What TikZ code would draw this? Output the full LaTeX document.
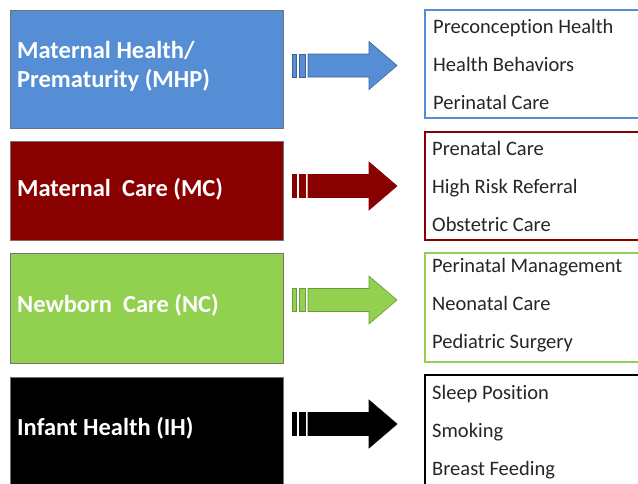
\documentclass[tikz,border=0pt]{standalone}
\usepackage{fontspec}
\setmainfont{Carlito}[Ligatures=NoCommon]
\definecolor{cblue}{HTML}{558ED5}
\definecolor{cbluedk}{HTML}{3C6494}
\definecolor{cred}{HTML}{880000}
\definecolor{creddk}{HTML}{5E0000}
\definecolor{cgreen}{HTML}{92D050}
\definecolor{cgreendk}{HTML}{6A9A3A}
\definecolor{txt}{HTML}{262626}
\tikzset{
  lbox/.style={draw=black!55, line width=0.8pt, inner sep=0pt},
  ltext/.style={anchor=base west, inner sep=0pt, text=white, font=\fontsize{24.5}{28}\selectfont\bfseries},
  rbox/.style={line width=1.6pt, inner sep=0pt},
  rtext/.style={anchor=base west, inner sep=0pt, text=txt, font=\fontsize{20.5}{24}\selectfont},
  arrowpart/.style={line width=0.6pt}
}
\newcommand{\stripearrow}[3]{%
  % #1 center y, #2 fill, #3 draw
  \filldraw[arrowpart, fill=#2, draw=#3] (292.5,#1-11.5) rectangle (296.5,#1+11.5);
  \filldraw[arrowpart, fill=#2, draw=#3] (299,#1-11.5) rectangle (305.5,#1+11.5);
  \filldraw[arrowpart, fill=#2, draw=#3, line join=miter]
    (308,#1-11.5) -- (369,#1-11.5) -- (369,#1-24) -- (397,#1) --
    (369,#1+24) -- (369,#1+11.5) -- (308,#1+11.5) -- cycle;
}
\begin{document}
\begin{tikzpicture}[x=1pt,y=-1pt]
\useasboundingbox (0,0) rectangle (638,483);
\clip (0,0) rectangle (638,483);
\fill[white] (0,0) rectangle (638,483);

% left boxes
\node[lbox, fill=cblue, minimum width=273pt, minimum height=118pt] (mhp) at (146.5,69) {};
\node[lbox, fill=cred, minimum width=273pt, minimum height=99pt] (mc) at (146.5,190.5) {};
\node[lbox, fill=cgreen, minimum width=273pt, minimum height=110pt] (nc) at (146.5,308) {};
\node[lbox, fill=black, minimum width=273pt, minimum height=110pt] (ih) at (146.5,432) {};

\node[ltext] (mhpt1) at (17,58) {Maternal Health/};
\node[ltext] (mhpt2) at (17,87) {Prematurity (MHP)};
\node[ltext] (mct) at (17,196) {Maternal\ \ Care (MC)};
\node[ltext] (nct) at (17,312) {Newborn\ \ Care (NC)};
\node[ltext] (iht) at (17,435) {Infant Health (IH)};

% arrows
\stripearrow{65.5}{cblue}{cbluedk}
\stripearrow{186}{cred}{cred}
\stripearrow{300}{cgreen}{cgreendk}
\stripearrow{424}{black}{black}

% right boxes
\node[rbox, draw=cblue, minimum width=230pt, minimum height=108pt] (rb1) at (540,64) {};
\node[rbox, draw=cred, minimum width=230pt, minimum height=108pt] (rb2) at (540,186) {};
\node[rbox, draw=cgreen, minimum width=230pt, minimum height=109pt] (rb3) at (540,307.5) {};
\node[rbox, draw=black, minimum width=230pt, minimum height=120pt] (rb4) at (540,435) {};

\node[rtext] (a1) at (433,33) {Preconception Health};
\node[rtext] (a2) at (433,71) {Health Behaviors};
\node[rtext] (a3) at (433,109) {Perinatal Care};
\node[rtext] (b1) at (432,155) {Prenatal Care};
\node[rtext] (b2) at (432,193) {High Risk Referral};
\node[rtext] (b3) at (432,231) {Obstetric Care};
\node[rtext] (c1) at (432,272) {Perinatal Management};
\node[rtext] (c2) at (432,310) {Neonatal Care};
\node[rtext] (c3) at (432,348) {Pediatric Surgery};
\node[rtext] (d1) at (432,399) {Sleep Position};
\node[rtext] (d2) at (432,437) {Smoking};
\node[rtext] (d3) at (432,475) {Breast Feeding};
\end{tikzpicture}
\end{document}
